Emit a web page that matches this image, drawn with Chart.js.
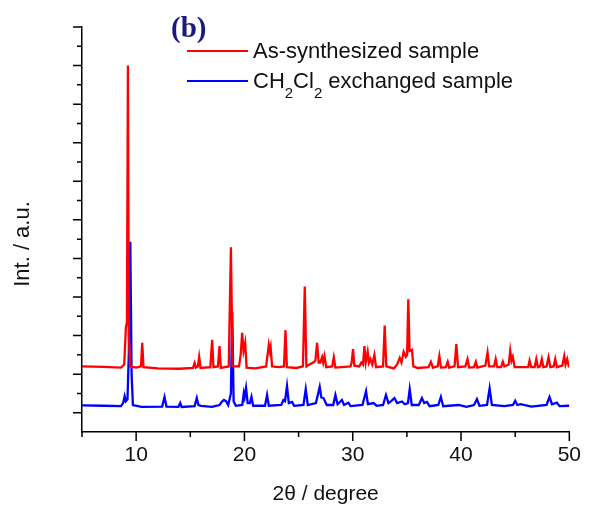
<!DOCTYPE html>
<html>
<head>
<meta charset="utf-8">
<script src="https://cdn.jsdelivr.net/npm/chart.js@4.4.1/dist/chart.umd.min.js"></script>
<style>
  html, body { margin: 0; padding: 0; background: #fff; }
  canvas { display: block; }
</style>
</head>
<body>
<canvas id="xrdChart" width="592" height="506"></canvas>
<script>
// [2theta, intensity] pairs (intensity in arbitrary units, stacked)
const asSynthesized = [
  [5.0, 2.20], [7.0, 2.19], [8.6, 2.17], [8.9, 2.25], [9.05, 3.2], [9.15, 3.35], [9.24, 10.0], [9.32, 3.0], [9.45, 2.2],
  [10.0, 2.17], [10.45, 2.2], [10.56, 2.81], [10.68, 2.18], [12.0, 2.15], [14.0, 2.14],
  [15.25, 2.16], [15.4, 2.29], [15.52, 2.17], [15.7, 2.2], [15.82, 2.45], [15.95, 2.16],
  [16.85, 2.18], [17.02, 2.89], [17.14, 2.18], [17.55, 2.2], [17.7, 2.73], [17.82, 2.16],
  [18.55, 2.2], [18.75, 5.29], [18.9, 2.2], [19.5, 2.2], [19.65, 2.5], [19.79, 3.07], [19.92, 2.6], [20.07, 2.81], [20.2, 2.17],
  [21.0, 2.15], [22.0, 2.2], [22.25, 2.76], [22.35, 2.6], [22.42, 2.7], [22.55, 2.2], [23.2, 2.18],
  [23.65, 2.2], [23.79, 3.14], [23.92, 2.18], [24.8, 2.16], [25.4, 2.2], [25.57, 4.27], [25.72, 2.2],
  [26.0, 2.25], [26.35, 2.3], [26.55, 2.35], [26.71, 2.81], [26.85, 2.3], [27.0, 2.3], [27.17, 2.44], [27.27, 2.3], [27.39, 2.47], [27.55, 2.18],
  [28.1, 2.2], [28.25, 2.44], [28.4, 2.17], [29.8, 2.2], [29.9, 2.3], [30.03, 2.65], [30.15, 2.22],
  [30.6, 2.2], [30.8, 2.3], [30.95, 2.25], [31.08, 2.73], [31.2, 2.3], [31.38, 2.58], [31.5, 2.3], [31.63, 2.39], [31.8, 2.25], [32.0, 2.5], [32.15, 2.18],
  [32.8, 2.2], [32.95, 3.26], [33.1, 2.2], [33.8, 2.15], [34.1, 2.25], [34.34, 2.42], [34.5, 2.3], [34.7, 2.58], [34.9, 2.45], [35.02, 2.5], [35.13, 3.94], [35.25, 2.6], [35.47, 2.63], [35.6, 2.2],
  [36.0, 2.16], [37.0, 2.18], [37.22, 2.32], [37.4, 2.17], [37.85, 2.2], [38.0, 2.47], [38.15, 2.17], [38.6, 2.18], [38.77, 2.32], [38.9, 2.17],
  [39.4, 2.2], [39.57, 2.78], [39.72, 2.18], [40.4, 2.2], [40.6, 2.39], [40.75, 2.17], [41.2, 2.18], [41.37, 2.32], [41.5, 2.17],
  [42.25, 2.22], [42.45, 2.56], [42.6, 2.2], [43.05, 2.2], [43.2, 2.39], [43.35, 2.18], [43.7, 2.18], [43.86, 2.32], [44.0, 2.2],
  [44.4, 2.25], [44.54, 2.61], [44.66, 2.35], [44.78, 2.45], [44.95, 2.18], [46.2, 2.18], [46.33, 2.35], [46.48, 2.18],
  [46.8, 2.18], [46.95, 2.39], [47.1, 2.18], [47.3, 2.2], [47.46, 2.39], [47.6, 2.18], [47.9, 2.2], [48.08, 2.44], [48.25, 2.18],
  [48.55, 2.2], [48.7, 2.39], [48.85, 2.18], [49.35, 2.22], [49.53, 2.47], [49.65, 2.25], [49.8, 2.39], [49.95, 2.2], [50.0, 2.2]
];
const exchanged = [
  [5.0, 1.19], [7.0, 1.18], [8.6, 1.17], [8.8, 1.25], [8.94, 1.43], [9.05, 1.3], [9.2, 1.35], [9.32, 2.5], [9.46, 5.43], [9.58, 2.0], [9.7, 1.2],
  [10.5, 1.15], [12.4, 1.16], [12.62, 1.41], [12.8, 1.16], [13.9, 1.15], [14.07, 1.25], [14.2, 1.15],
  [15.4, 1.17], [15.6, 1.38], [15.75, 1.2], [16.0, 1.18], [17.0, 1.15], [17.7, 1.2], [17.9, 1.28], [18.1, 1.33], [18.3, 1.3], [18.5, 1.2],
  [18.75, 1.5], [18.87, 3.62], [19.0, 1.3], [19.2, 1.18], [19.8, 1.2], [19.94, 1.51], [20.02, 1.4], [20.15, 1.64], [20.3, 1.25],
  [20.5, 1.25], [20.65, 1.41], [20.8, 1.18], [21.9, 1.18], [22.09, 1.46], [22.25, 1.18], [23.4, 1.2], [23.6, 1.33], [23.75, 1.3], [23.93, 1.69], [24.1, 1.25],
  [24.4, 1.28], [24.6, 1.18], [25.45, 1.2], [25.66, 1.61], [25.85, 1.2], [26.6, 1.25], [26.95, 1.67], [27.1, 1.4], [27.3, 1.38], [27.6, 1.2],
  [28.2, 1.2], [28.4, 1.46], [28.6, 1.22], [29.0, 1.33], [29.2, 1.2], [29.6, 1.26], [29.8, 1.17], [30.9, 1.2], [31.23, 1.56], [31.4, 1.22],
  [31.94, 1.25], [32.2, 1.18], [32.8, 1.2], [33.07, 1.46], [33.3, 1.25], [33.55, 1.3], [33.85, 1.38], [34.1, 1.25], [34.55, 1.29], [34.8, 1.22],
  [35.1, 1.25], [35.26, 1.61], [35.45, 1.2], [36.1, 1.2], [36.39, 1.38], [36.6, 1.25], [36.85, 1.28], [37.1, 1.17], [37.9, 1.2], [38.14, 1.41], [38.35, 1.17],
  [39.78, 1.2], [40.5, 1.15], [41.2, 1.2], [41.47, 1.35], [41.7, 1.18], [42.4, 1.2], [42.64, 1.63], [42.85, 1.2], [44.0, 1.17],
  [44.8, 1.2], [45.0, 1.31], [45.2, 1.2], [45.5, 1.22], [46.5, 1.16], [47.9, 1.2], [48.17, 1.41], [48.4, 1.22], [48.85, 1.26], [49.1, 1.17], [50.0, 1.18]
];

const xMajorTicks = [10, 20, 30, 40, 50];
const xMinorTicks = [5, 15, 25, 35, 45];
const yMajorTicks = [1, 2, 3, 4, 5, 6, 7, 8, 9, 10, 11];
const yMinorTicks = [1.5, 2.5, 3.5, 4.5, 5.5, 6.5, 7.5, 8.5, 9.5, 10.5];

// legend rows: [text, isSubscript]
const legendRows = [
  { color: '#ff0000', parts: [['As-synthesized sample', false]] },
  { color: '#0000ff', parts: [['CH', false], ['2', true], ['Cl', false], ['2', true], [' exchanged sample', false]] }
];
const panelLabel = '(b)';
const xTitle = '2\u03b8 / degree';
const yTitle = 'Int. / a.u.';

const SANS = '"Liberation Sans", Arial, sans-serif';

function toPoints(pairs) {
  return pairs.map(p => ({ x: p[0], y: p[1] }));
}

function drawRich(ctx, parts, x, y, size) {
  parts.forEach(([txt, sub]) => {
    ctx.font = (sub ? Math.round(size * 0.66) : size) + 'px ' + SANS;
    ctx.fillText(txt, x, sub ? y + size * 0.45 : y);
    x += ctx.measureText(txt).width;
  });
}

// ticks (major/minor, pointing outward), y title, panel label and legend
const decorPlugin = {
  id: 'decor',
  afterDraw(chart) {
    const ctx = chart.ctx;
    const xs = chart.scales.x, ys = chart.scales.y;
    ctx.save();
    ctx.strokeStyle = '#000';
    ctx.lineWidth = 1.5;
    ctx.beginPath();
    xMajorTicks.forEach(v => { const p = xs.getPixelForValue(v); ctx.moveTo(p, xs.top); ctx.lineTo(p, xs.top + 9); });
    xMinorTicks.forEach(v => { const p = xs.getPixelForValue(v); ctx.moveTo(p, xs.top); ctx.lineTo(p, xs.top + 5); });
    yMajorTicks.forEach(v => { const p = ys.getPixelForValue(v); ctx.moveTo(ys.right, p); ctx.lineTo(ys.right - 9, p); });
    yMinorTicks.forEach(v => { const p = ys.getPixelForValue(v); ctx.moveTo(ys.right, p); ctx.lineTo(ys.right - 5, p); });
    ctx.stroke();

    ctx.fillStyle = '#111';
    ctx.save();
    ctx.translate(23, 244);
    ctx.rotate(-Math.PI / 2);
    ctx.textAlign = 'center';
    ctx.textBaseline = 'middle';
    ctx.font = '22px ' + SANS;
    ctx.fillText(yTitle, 0, 0);
    ctx.restore();

    ctx.fillStyle = '#1a1a80';
    ctx.font = 'bold 29px "Liberation Serif", "Times New Roman", serif';
    ctx.textBaseline = 'alphabetic';
    ctx.fillText(panelLabel, 171, 37);

    legendRows.forEach((row, i) => {
      const ly = 51 + i * 30;
      ctx.strokeStyle = row.color;
      ctx.lineWidth = 2;
      ctx.beginPath();
      ctx.moveTo(187, ly);
      ctx.lineTo(248, ly);
      ctx.stroke();
      ctx.fillStyle = '#111';
      drawRich(ctx, row.parts, 253, ly + 7, 22);
    });
    ctx.restore();
  }
};

new Chart(document.getElementById('xrdChart').getContext('2d'), {
  type: 'line',
  data: {
    datasets: [
      { label: 'As-synthesized sample', data: toPoints(asSynthesized), borderColor: '#ff0000', borderWidth: 2.3 },
      { label: 'CH2Cl2 exchanged sample', data: toPoints(exchanged), borderColor: '#0000ff', borderWidth: 2.3 }
    ]
  },
  options: {
    responsive: false,
    animation: false,
    events: [],
    elements: { point: { radius: 0 }, line: { tension: 0 } },
    layout: { padding: { top: 27, right: 19, left: 0, bottom: 0 } },
    plugins: { legend: { display: false }, tooltip: { enabled: false } },
    scales: {
      x: {
        type: 'linear',
        min: 5,
        max: 50,
        afterBuildTicks: scale => { scale.ticks = xMajorTicks.map(v => ({ value: v })); },
        afterFit: scale => { scale.height = 74; },
        grid: { display: false, drawTicks: false },
        border: { display: true, color: '#000', width: 1.5 },
        ticks: { color: '#111', padding: 11, maxRotation: 0, autoSkip: false, font: { family: SANS, size: 21 } },
        title: { display: true, text: xTitle, color: '#111', font: { family: SANS, size: 21 }, padding: { top: 0, bottom: -1 } }
      },
      y: {
        type: 'linear',
        min: 0.5,
        max: 11,
        afterFit: scale => { scale.width = 82; },
        grid: { display: false, drawTicks: false },
        border: { display: true, color: '#000', width: 1.5 },
        ticks: { display: false }
      }
    }
  },
  plugins: [decorPlugin]
});
</script>
</body>
</html>
